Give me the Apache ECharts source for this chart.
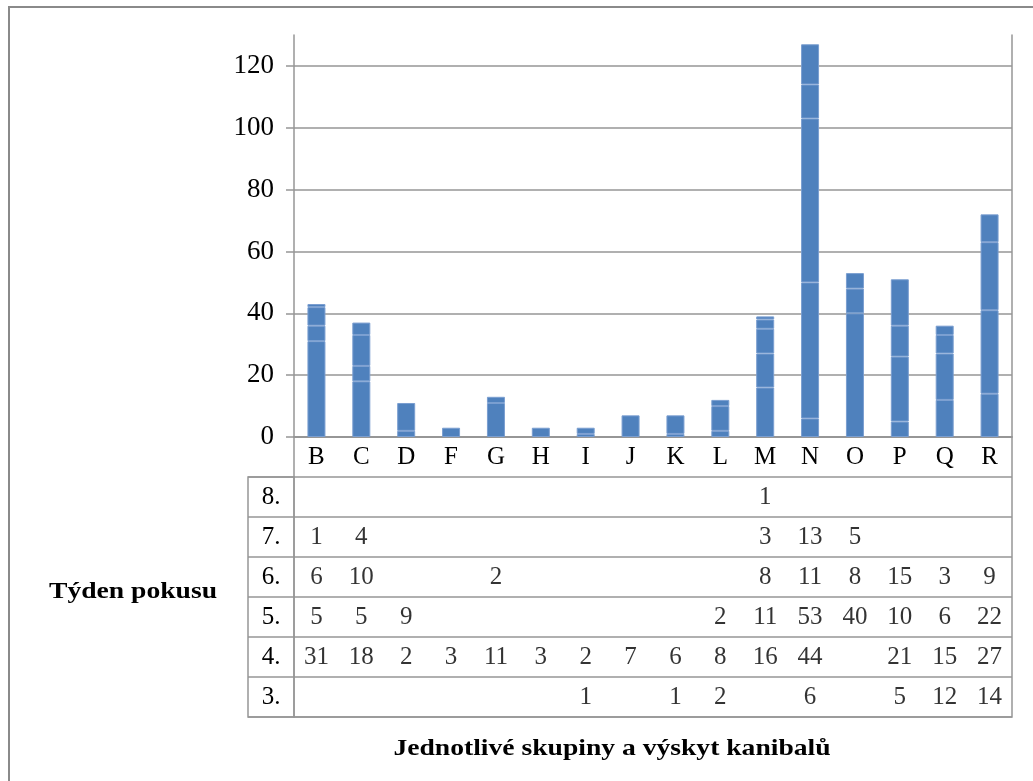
<!DOCTYPE html>
<html>
<head>
<meta charset="utf-8">
<script src="https://cdn.jsdelivr.net/npm/echarts@6/dist/echarts.min.js"></script>
<style>html,body{margin:0;padding:0;background:#fff;}#c{width:1033px;height:781px;}</style>
</head>
<body>
<div id="c"></div>
<script>
const categories = ['B','C','D','F','G','H','I','J','K','L','M','N','O','P','Q','R'];
const weekNames = ['3.','4.','5.','6.','7.','8.'];
const week3 = [null,null,null,null,null,null,1,null,1,2,null,6,null,5,12,14];
const week4 = [31,18,2,3,11,3,2,7,6,8,16,44,null,21,15,27];
const week5 = [5,5,9,null,null,null,null,null,null,2,11,53,40,10,6,22];
const week6 = [6,10,null,null,2,null,null,null,null,null,8,11,8,15,3,9];
const week7 = [1,4,null,null,null,null,null,null,null,null,3,13,5,null,null,null];
const week8 = [null,null,null,null,null,null,null,null,null,null,1,null,null,null,null,null];
const yTicks = {min: 0, max: 130, interval: 20};
const tableRows = ['8.','7.','6.','5.','4.','3.'];
const xTitle = 'Jednotlivé skupiny a výskyt kanibalů';
const yTitle = 'Týden pokusu';

const weeks = [week3, week4, week5, week6, week7, week8];
const FONT = '"Liberation Serif", "Times New Roman", serif';
const GRAY = '#969696';
const BLUE = '#4F81BD';

// table cells: row index in table grid (0 = category label row, 1..6 = weeks 8..3)
const cellData = [];
weeks.forEach((arr, wi) => {
  const rowIdx = tableRows.indexOf(weekNames[wi]) + 1;
  arr.forEach((v, ci) => { if (v !== null) cellData.push([ci, rowIdx, v]); });
});

const chart = echarts.init(document.getElementById('c'));
chart.setOption({
  animation: false,
  backgroundColor: '#fff',
  grid: [
    {left: 294, right: 21, top: 35, height: 402},
    {left: 294, right: 21, top: 437, height: 280, show: true, borderColor: GRAY, borderWidth: 1.5, backgroundColor: 'transparent'},
    {left: 248, width: 46, top: 477, height: 240, show: true, borderColor: GRAY, borderWidth: 1.5, backgroundColor: 'transparent'}
  ],
  xAxis: [
    {gridIndex: 0, type: 'category', data: categories,
     axisLine: {show: true, lineStyle: {color: GRAY, width: 1.5}},
     axisTick: {show: false},
     axisLabel: {interval: 0, margin: 8, color: '#000', fontFamily: FONT, fontSize: 25, verticalAlign: 'top'}},
    {gridIndex: 1, type: 'category', data: categories, show: false},
    {gridIndex: 2, type: 'value', show: false, min: 0, max: 1}
  ],
  yAxis: [
    {gridIndex: 0, type: 'value', min: yTicks.min, max: yTicks.max, interval: yTicks.interval,
     axisLine: {show: true, lineStyle: {color: GRAY, width: 1.5}},
     axisTick: {show: true, length: 8, lineStyle: {color: GRAY, width: 1.5}},
     axisLabel: {showMaxLabel: false, margin: 20, color: '#000', fontFamily: FONT, fontSize: 27},
     splitLine: {show: true, showMaxLine: false, lineStyle: {color: GRAY, width: 1.5}}},
    {gridIndex: 0, type: 'value', position: 'right', min: yTicks.min, max: yTicks.max, interval: yTicks.interval,
     axisLine: {show: true, lineStyle: {color: GRAY, width: 1.5}},
     axisTick: {show: false}, axisLabel: {show: false}, splitLine: {show: false}},
    {gridIndex: 1, type: 'category', inverse: true, data: [''].concat(tableRows),
     axisLine: {show: false}, axisTick: {show: false}, axisLabel: {show: false},
     splitLine: {show: true, interval: 0, lineStyle: {color: GRAY, width: 1.5}}},
    {gridIndex: 2, type: 'category', inverse: true, data: tableRows,
     axisLine: {show: false}, axisTick: {show: false},
     axisLabel: {interval: 0, margin: -23, align: 'center', color: '#000', fontFamily: FONT, fontSize: 25},
     splitLine: {show: true, interval: 0, lineStyle: {color: GRAY, width: 1.5}}}
  ],
  series: weeks.map((arr, wi) => ({
    name: weekNames[wi], type: 'bar', stack: 'total', xAxisIndex: 0, yAxisIndex: 0,
    data: arr, barWidth: 18,
    itemStyle: {color: BLUE, borderColor: '#7a9ed0', borderWidth: 1}
  })).concat([{
    type: 'scatter', xAxisIndex: 1, yAxisIndex: 2, data: cellData, symbolSize: 0,
    label: {show: true, position: 'inside', formatter: p => String(p.value[2]),
            color: '#000', fontFamily: FONT, fontSize: 25}
  }]),
  graphic: [
    {type: 'rect', shape: {x: 9, y: 7, width: 1060, height: 800}, style: {fill: 'none', stroke: '#8a8a8a', lineWidth: 2}, silent: true},
    {type: 'text', x: 133, y: 592, scaleX: 1.15, style: {text: yTitle, x: 0, y: 0, textAlign: 'center', textVerticalAlign: 'middle', font: 'bold 24px ' + FONT, fill: '#000'}},
    {type: 'text', x: 612, y: 749, scaleX: 1.15, style: {text: xTitle, x: 0, y: 0, textAlign: 'center', textVerticalAlign: 'middle', font: 'bold 24px ' + FONT, fill: '#000'}}
  ]
});
</script>
</body>
</html>
